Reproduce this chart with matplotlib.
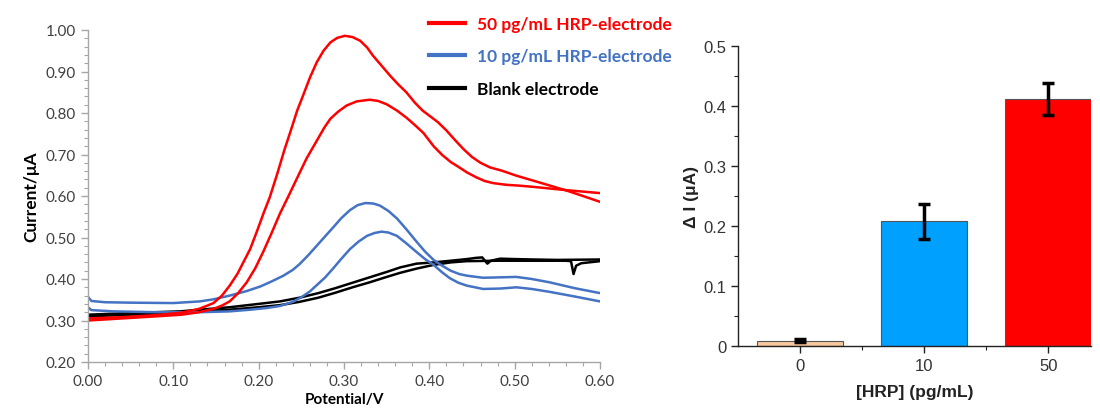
import matplotlib
matplotlib.use("Agg")
import matplotlib.pyplot as plt
from matplotlib.lines import Line2D
from matplotlib.ticker import MultipleLocator, FormatStrFormatter

# ---------------- data: DPV curves (Potential / V, Current / uA) ----------------
red_a_v = [0.000, 0.040, 0.080, 0.110, 0.130, 0.140, 0.147, 0.157, 0.166, 0.175, 0.182, 0.190,
           0.198, 0.206, 0.213, 0.222, 0.230, 0.238, 0.245, 0.252, 0.260, 0.268, 0.276, 0.284,
           0.292, 0.301, 0.310, 0.319, 0.327, 0.334, 0.344, 0.354, 0.363, 0.373, 0.383, 0.392,
           0.401, 0.410, 0.420, 0.430, 0.440, 0.450, 0.460, 0.471, 0.485, 0.502, 0.530, 0.561,
           0.580, 0.600]
red_a_i = [0.305, 0.308, 0.313, 0.319, 0.328, 0.336, 0.342, 0.360, 0.384, 0.412, 0.440, 0.472,
           0.515, 0.560, 0.597, 0.655, 0.710, 0.760, 0.805, 0.842, 0.885, 0.922, 0.950, 0.970,
           0.981, 0.986, 0.983, 0.974, 0.958, 0.938, 0.914, 0.890, 0.870, 0.850, 0.825, 0.806,
           0.792, 0.778, 0.758, 0.735, 0.713, 0.694, 0.680, 0.669, 0.661, 0.649, 0.632, 0.613,
           0.600, 0.586]

red_b_v = [0.000, 0.040, 0.080, 0.110, 0.130, 0.147, 0.157, 0.166, 0.176, 0.186, 0.196, 0.205,
           0.215, 0.225, 0.235, 0.245, 0.256, 0.263, 0.270, 0.277, 0.284, 0.293, 0.303, 0.315,
           0.330, 0.340, 0.350, 0.362, 0.373, 0.383, 0.393, 0.405, 0.415, 0.425, 0.435, 0.444,
           0.455, 0.465, 0.475, 0.490, 0.505, 0.522, 0.561, 0.600]
red_b_i = [0.300, 0.305, 0.310, 0.314, 0.320, 0.328, 0.336, 0.346, 0.366, 0.392, 0.426, 0.464,
           0.510, 0.558, 0.600, 0.643, 0.690, 0.715, 0.740, 0.765, 0.786, 0.803, 0.818, 0.828,
           0.832, 0.829, 0.821, 0.806, 0.789, 0.771, 0.752, 0.720, 0.699, 0.682, 0.669, 0.657,
           0.645, 0.636, 0.631, 0.627, 0.625, 0.622, 0.614, 0.607]

blue_a_v = [0.000, 0.004, 0.020, 0.049, 0.100, 0.131, 0.147, 0.166, 0.186, 0.202, 0.215, 0.229,
            0.240, 0.248, 0.258, 0.268, 0.278, 0.288, 0.297, 0.307, 0.316, 0.325, 0.334, 0.342,
            0.352, 0.362, 0.373, 0.385, 0.395, 0.405, 0.415, 0.425, 0.435, 0.444, 0.463, 0.483,
            0.502, 0.520, 0.541, 0.570, 0.600]
blue_a_i = [0.357, 0.347, 0.344, 0.343, 0.342, 0.346, 0.351, 0.360, 0.371, 0.382, 0.394, 0.408,
            0.422, 0.436, 0.457, 0.480, 0.503, 0.526, 0.547, 0.566, 0.578, 0.583, 0.582, 0.577,
            0.564, 0.546, 0.520, 0.490, 0.466, 0.446, 0.432, 0.420, 0.412, 0.408, 0.403, 0.404,
            0.405, 0.400, 0.392, 0.378, 0.366]

blue_b_v = [0.000, 0.004, 0.030, 0.080, 0.131, 0.166, 0.190, 0.209, 0.225, 0.240, 0.250, 0.260,
            0.268, 0.278, 0.2875, 0.297, 0.307, 0.317, 0.327, 0.336, 0.344, 0.352, 0.362, 0.373,
            0.385, 0.395, 0.405, 0.415, 0.424, 0.434, 0.444, 0.463, 0.483, 0.502, 0.520, 0.541,
            0.570, 0.600]
blue_b_i = [0.332, 0.325, 0.322, 0.320, 0.320, 0.322, 0.326, 0.330, 0.335, 0.345, 0.356, 0.370,
            0.385, 0.404, 0.426, 0.449, 0.472, 0.490, 0.504, 0.511, 0.514, 0.512, 0.504, 0.486,
            0.465, 0.448, 0.434, 0.416, 0.402, 0.391, 0.384, 0.376, 0.377, 0.380, 0.376, 0.369,
            0.358, 0.346]

black_a_v = [0.000, 0.050, 0.108, 0.166, 0.200, 0.225, 0.248, 0.270, 0.290, 0.310, 0.330, 0.350,
             0.366, 0.385, 0.405, 0.425, 0.444, 0.455, 0.462, 0.468, 0.472, 0.483, 0.500, 0.522,
             0.550, 0.600]
black_a_i = [0.314, 0.318, 0.322, 0.332, 0.340, 0.346, 0.355, 0.366, 0.378, 0.391, 0.404, 0.417,
             0.428, 0.437, 0.440, 0.444, 0.448, 0.451, 0.452, 0.437, 0.444, 0.449, 0.448, 0.447,
             0.446, 0.447]

black_b_v = [0.000, 0.050, 0.108, 0.166, 0.200, 0.225, 0.248, 0.270, 0.290, 0.310, 0.330, 0.350,
             0.366, 0.385, 0.405, 0.425, 0.444, 0.480, 0.520, 0.560, 0.566, 0.569, 0.572, 0.578,
             0.600]
black_b_i = [0.310, 0.314, 0.318, 0.326, 0.332, 0.337, 0.345, 0.355, 0.367, 0.380, 0.392, 0.405,
             0.415, 0.425, 0.434, 0.440, 0.443, 0.444, 0.444, 0.444, 0.443, 0.412, 0.432, 0.438,
             0.443]

legend_labels = ["50 pg/mL HRP-electrode", "10 pg/mL HRP-electrode", "Blank electrode"]

# ---------------- data: bar chart ----------------
bar_labels = ["0", "10", "50"]
bar_values = [0.009, 0.208, 0.412]
bar_errors = [0.002, 0.029, 0.027]

RED = "#FF0000"
BLUE = "#4472C4"
BAR_COLORS = ["#F8C89C", "#00A0FF", "#FF0000"]

fig = plt.figure(figsize=(11, 4.1), dpi=100)

# ---------------- left panel ----------------
ax1 = fig.add_axes([88 / 1100, 1 - 363 / 410, 512 / 1100, 332 / 410])
lw = 1.8
ax1.plot(black_a_v, black_a_i, color="black", lw=lw)
ax1.plot(black_b_v, black_b_i, color="black", lw=lw)
ax1.plot(blue_a_v, blue_a_i, color=BLUE, lw=lw)
ax1.plot(blue_b_v, blue_b_i, color=BLUE, lw=lw)
ax1.plot(red_a_v, red_a_i, color=RED, lw=lw)
ax1.plot(red_b_v, red_b_i, color=RED, lw=lw)

ax1.set_xlim(0, 0.6)
ax1.set_ylim(0.2, 1.0)
ax1.xaxis.set_major_locator(MultipleLocator(0.1))
ax1.xaxis.set_minor_locator(MultipleLocator(0.02))
ax1.yaxis.set_major_locator(MultipleLocator(0.1))
ax1.yaxis.set_minor_locator(MultipleLocator(0.02))
ax1.xaxis.set_major_formatter(FormatStrFormatter("%.2f"))
ax1.yaxis.set_major_formatter(FormatStrFormatter("%.2f"))
for s in ["top", "right"]:
    ax1.spines[s].set_visible(False)
for s in ["left", "bottom"]:
    ax1.spines[s].set_color("#A6A6A6")
    ax1.spines[s].set_linewidth(1.0)
ax1.tick_params(which="major", direction="out", length=5, width=1.0, color="#A6A6A6",
                labelsize=11, labelcolor="#404040")
ax1.tick_params(which="minor", direction="out", length=3, width=0.8, color="#A6A6A6")
for lab in ax1.get_xticklabels() + ax1.get_yticklabels():
    lab.set_family("Lato")
ax1.set_xlabel("Potential/V", fontsize=11, fontweight="bold", family="Lato", labelpad=3)
ax1.set_ylabel("Current/\u03bcA", fontsize=12.5, fontweight="bold", family="Lato", labelpad=5)

handles = [Line2D([], [], color=RED, lw=3), Line2D([], [], color=BLUE, lw=3),
           Line2D([], [], color="black", lw=3)]
leg = fig.legend(handles, legend_labels, loc="upper left",
                 bbox_to_anchor=(413 / 1100, 1 - 1 / 410), frameon=False,
                 handlelength=2.07, handletextpad=0.7, labelspacing=0.95,
                 prop={"family": "Lato", "weight": "bold", "size": 12.5},
                 labelcolor=[RED, BLUE, "black"])

# ---------------- right panel ----------------
ax2 = fig.add_axes([738 / 1100, 1 - 347 / 410, 353 / 1100, 300 / 410])
x = list(range(len(bar_labels)))
ax2.bar(x, bar_values, width=0.69, color=BAR_COLORS, edgecolor="#555555", linewidth=0.8,
        zorder=2)
ax2.errorbar(x, bar_values, yerr=bar_errors, fmt="none", ecolor="black", elinewidth=2.5,
             capsize=4.5, capthick=2.5, zorder=3)
ax2.set_xlim(-0.5, 2.345)
ax2.set_ylim(0, 0.5)
ax2.set_xticks(x)
ax2.set_xticklabels(bar_labels)
ax2.set_xticks([0.5, 1.5], minor=True)
ax2.yaxis.set_major_locator(MultipleLocator(0.1))
ax2.yaxis.set_minor_locator(MultipleLocator(0.05))
ax2.yaxis.set_major_formatter(FormatStrFormatter("%g"))
for s in ["top", "right"]:
    ax2.spines[s].set_visible(False)
for s in ["left", "bottom"]:
    ax2.spines[s].set_color("#222222")
    ax2.spines[s].set_linewidth(1.0)
ax2.tick_params(which="major", direction="out", length=5, width=1.0, color="#222222",
                labelsize=12, labelcolor="#333333")
ax2.tick_params(which="minor", direction="out", length=3, width=0.8, color="#222222")
for lab in ax2.get_xticklabels() + ax2.get_yticklabels():
    lab.set_family("Liberation Sans")
ax2.set_xlabel("[HRP] (pg/mL)", fontsize=12.5, fontweight="bold", family="Liberation Sans",
               labelpad=8, color="#222222")
ax2.set_ylabel("\u0394 I (\u03bcA)", fontsize=12.5, fontweight="bold", family="Liberation Sans",
               labelpad=3, color="#222222")

fig.savefig("out.png", dpi=100)
